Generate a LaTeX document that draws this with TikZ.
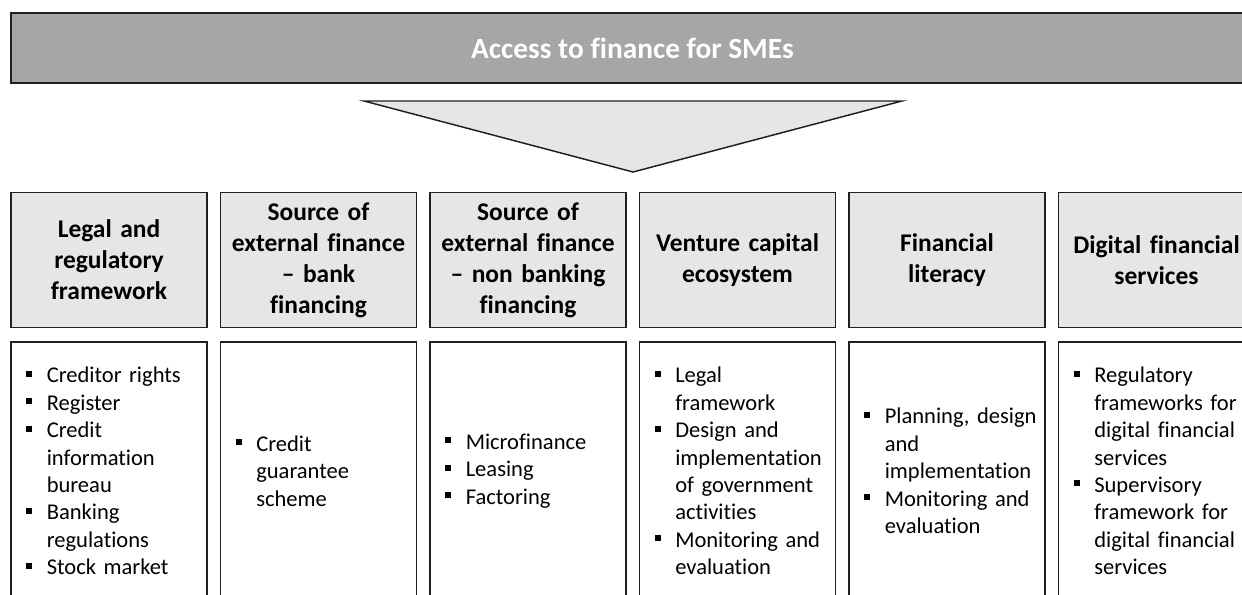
\documentclass[tikz,border=0pt]{standalone}
\usepackage{fontspec}
\setmainfont{Carlito}[Ligatures={TeX,NoCommon}]
\definecolor{barfill}{HTML}{A6A6A6}
\definecolor{headfill}{HTML}{E7E6E6}
\definecolor{edge}{HTML}{1F1F1F}
\newcommand{\blt}{\leavevmode\llap{\rule[4.5pt]{4.5pt}{4.5pt}\hspace{10.9pt}}}
\begin{document}
\begin{tikzpicture}[x=0.75pt,y=-0.75pt,
  bar/.style={draw=edge,line width=1.5pt,fill=barfill,text=white,inner sep=0pt,
    minimum width=932.25pt,minimum height=52.5pt,font=\fontsize{22}{26}\selectfont\bfseries},
  headbox/.style={draw=edge,line width=1.1pt,fill=headfill,inner sep=0pt,
    minimum width=147pt,minimum height=101.25pt,text width=143pt,align=center,
    font=\fontsize{19.1}{23.3}\selectfont\bfseries},
  bodybox/.style={draw=edge,line width=1.1pt,inner sep=0pt,minimum width=147pt,minimum height=193.5pt},
  bodytext/.style={anchor=west,inner sep=0pt,text width=125pt,align=left,
    font=\fontsize{16.9}{20.6}\selectfont}]
\useasboundingbox (0,0) rectangle (1242,594);
\clip (0,0) rectangle (1242,594);
\node[bar] (top) at (632.5,48) {Access to finance for SMEs};
\draw[edge,line width=1.1pt,fill=headfill] (364,101)--(902,101)--(633,172)--cycle;
\foreach \x/\head/\body [count=\i] in {
  11/{Legal and\\regulatory\\framework}/{\blt Creditor rights\\\blt Register\\\blt Credit\\information\\bureau\\\blt Banking\\regulations\\\blt Stock market},
  220.5/{Source of\\external finance\\– bank\\financing}/{\blt Credit\\guarantee\\scheme},
  430/{Source of\\external finance\\– non banking\\financing}/{\blt Microfinance\\\blt Leasing\\\blt Factoring},
  639.5/{Venture capital\\ecosystem}/{\blt Legal\\framework\\\blt Design and\\implementation\\of government\\activities\\\blt Monitoring and\\evaluation},
  849/{Financial\\literacy}/{\blt Planning, design\\and\\implementation\\\blt Monitoring and\\evaluation},
  1058.5/{Digital financial\\services}/{\blt Regulatory\\frameworks for\\digital financial\\services\\\blt Supervisory\\framework for\\digital financial\\services}}{
  \node[headbox] (h\i) at (\x+98,260) {\head};
  \node[bodybox] (b\i) at (\x+98,471) {};
  \node[bodytext] (t\i) at (\x+35.5,471) {\body};
}
\end{tikzpicture}
\end{document}
